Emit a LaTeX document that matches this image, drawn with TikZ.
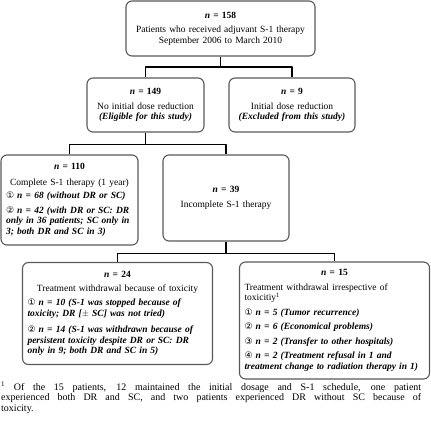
\documentclass[tikz,border=0pt]{standalone}
\usepackage{fontspec}
\setmainfont{Liberation Serif}
\newfontfamily\circfont{DejaVu Sans}
\newcommand{\nn}{\textbf{\textit{n}}}
\newcommand{\cnum}[1]{{\circfont\small #1}}
\begin{document}
\begin{tikzpicture}[x=1pt,y=-1pt,line join=round,
		font=\fontsize{9.5}{10.5}\selectfont,
		box/.style={draw=black!65,line width=1.1pt,rounded corners=6pt,inner sep=5pt},
		link/.style={line width=1.5pt}]
	\useasboundingbox (0,0) rectangle (431,421);
	% boxes
	\node[box,text width=179pt,minimum height=55pt,align=center] (all) at (220.5,28.5)
		{\nn\ \textbf{= 158}\\[4pt]
		 Patients who received adjuvant S-1 therapy\\ September 2006 to March 2010};
	\node[box,text width=107pt,minimum height=54pt,align=center] (keep) at (145.5,105)
		{\nn\ \textbf{= 149}\\[4pt]
		 No initial dose reduction\\ \textbf{\textit{(Eligible for this study)}}};
	\node[box,text width=116pt,minimum height=54pt,align=center] (excl) at (292,105)
		{\nn\ \textbf{= 9}\\[4pt]
		 Initial dose reduction\\ \textbf{\textit{(Excluded from this study)}}};
	\node[box,text width=127pt,minimum height=90pt] (done) at (69.5,200)
		{\centering\nn\ \textbf{= 110}\\[5pt]
		 Complete S-1 therapy (1 year)\par\raggedright\vspace{3pt}
		 \cnum{①} \textbf{\textit{n = 68 (without DR or SC)}}\par\vspace{4pt}
		 \cnum{②} \textbf{\textit{n = 42 (with DR or SC: DR only in 36 patients; SC only in 3; both DR and SC in 3)}}\par};
	\node[box,text width=116pt,minimum height=86pt,align=center] (part) at (226,198)
		{\nn\ \textbf{= 39}\\[4pt] Incomplete S-1 therapy};
	\node[box,text width=180pt,minimum height=102pt] (tox) at (117.5,313.5)
		{\centering\nn\ \textbf{= 24}\\[3pt]
		 Treatment withdrawal because of toxicity\par\raggedright\vspace{4pt}
		 \cnum{①} \textbf{\textit{n = 10 (S-1 was stopped because of toxicity; DR [$\pm$ SC] was not tried)}}\par\vspace{6pt}
		 \cnum{②} \textbf{\textit{n = 14 (S-1 was withdrawn because of persistent toxicity despite DR or SC: DR only in 9; both DR and SC in 5)}}\par};
	\node[box,text width=180pt,minimum height=117pt] (other) at (334.5,320.5)
		{\centering\nn\ \textbf{= 15}\\[4pt]\raggedright
		 Treatment withdrawal irrespective of toxicitiy\textsuperscript{1}\par\vspace{4pt}
		 \cnum{①} \textbf{\textit{n = 5 (Tumor recurrence)}}\par\vspace{4pt}
		 \cnum{②} \textbf{\textit{n = 6 (Economical problems)}}\par\vspace{4pt}
		 \cnum{③} \textbf{\textit{n = 2 (Transfer to other hospitals)}}\par\vspace{4pt}
		 \cnum{④} \textbf{\textit{n = 2 (Treatment refusal in 1 and treatment change to radiation therapy in 1)}}\par};
	% footnote
	\node[anchor=north west,inner sep=0pt,text width=420pt,align=justify,
		font=\fontsize{10}{10.5}\selectfont] (note) at (1,382)
		{\textsuperscript{1} Of the 15 patients, 12 maintained the initial dosage and S-1 schedule, one patient\linebreak
		 experienced both DR and SC, and two patients experienced DR without SC because of\linebreak
		 toxicity.};
	% connectors
	\draw[link] (all.south) -- ++(0,10.5) -| (keep.north);
	\draw[link] (all.south) -- ++(0,10.5) -| (excl.north);
	\draw[link] (keep.south) -- ++(0,12) -| (done.north);
	\draw[link] (keep.south) -- ++(0,12) -| (part.north);
	\draw[link] (part.south) -- ++(0,12) -| (tox.north);
	\draw[link] (part.south) -- ++(0,12) -| (other.north);
\end{tikzpicture}
\end{document}
